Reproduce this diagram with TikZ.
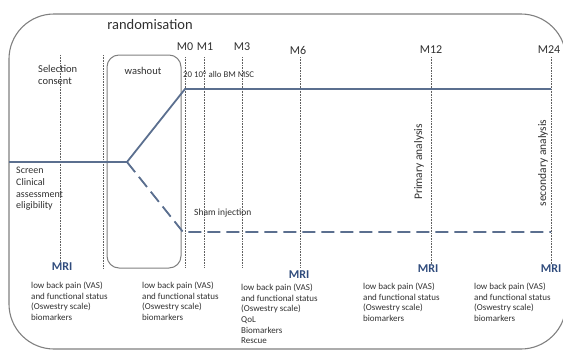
\documentclass[tikz,border=0pt]{standalone}
\usepackage{fontspec}
\setmainfont{Carlito}
\definecolor{armline}{HTML}{5B6F8F}
\definecolor{mriblue}{HTML}{2F4B7C}
\definecolor{txtgray}{HTML}{303030}
\definecolor{framegray}{HTML}{808080}
\definecolor{dotgray}{HTML}{606060}
\begin{document}
\begin{tikzpicture}[x=1pt,y=-1pt,
  every node/.style={inner sep=0pt, text=txtgray},
  frame/.style={draw=framegray, line width=1.1pt},
  tick/.style={draw=dotgray, line width=0.6pt, dash pattern=on 0.8pt off 0.8pt},
  arm/.style={draw=armline, line width=1.8pt},
  shamarm/.style={draw=armline, line width=1.8pt, dash pattern=on 13pt off 6pt},
  mlabel/.style={font=\fontsize{12}{13}\selectfont},
  small/.style={font=\fontsize{9}{10.6}\selectfont, align=left, anchor=north west},
  mid/.style={font=\fontsize{10.5}{12.5}\selectfont, align=left, anchor=north west},
  mri/.style={font=\fontsize{12}{13}\selectfont\bfseries, text=mriblue},
  rot/.style={font=\fontsize{11.5}{13}\selectfont, rotate=90}
]
\useasboundingbox (0,0) rectangle (563,351);
% outer frame
\draw[frame, rounded corners=45pt] (9,14) rectangle (566,349);
\node[font=\fontsize{14.5}{16}\selectfont] (rand) at (150,25) {randomisation};
% washout box
\draw[frame, line width=1pt, draw=gray, rounded corners=12pt] (107,55) rectangle (181,268);
\node[mid, anchor=center] (wash) at (143,71) {washout};
% vertical dotted lines
\coordinate (t0) at (60,55);  \coordinate (b0) at (60,262);
\coordinate (t1) at (103,55); \coordinate (b1) at (103,268);
\coordinate (tM0) at (185,57); \coordinate (bM0) at (185,268);
\coordinate (tM1) at (204,57); \coordinate (bM1) at (204,268);
\coordinate (tM3) at (242,57); \coordinate (bM3) at (242,268);
\coordinate (tM6) at (300,57); \coordinate (bM6) at (300,267);
\coordinate (tM12) at (431,57); \coordinate (bM12) at (431,264);
\coordinate (tM24) at (551,57); \coordinate (bM24) at (551,264);
\foreach \a/\b in {t0/b0,t1/b1,tM0/bM0,tM1/bM1,tM3/bM3,tM6/bM6,tM12/bM12,tM24/bM24}
  \draw[tick] (\a) -- (\b);
% month labels
\node[mlabel] (M0) at (185,47) {M0};
\node[mlabel] (M1) at (205,47) {M1};
\node[mlabel] (M3) at (242,47) {M3};
\node[mlabel] (M6) at (298,50) {M6};
\node[mlabel] (M12) at (431,50) {M12};
\node[mlabel] (M24) at (549,50) {M24};
% arms
\coordinate (start) at (9,162);
\coordinate (split) at (127,162);
\coordinate (actA) at (185,89);
\coordinate (actB) at (551,89);
\coordinate (shamA) at (183,232);
\coordinate (shamB) at (551,232);
\draw[arm] (start) -- (split) -- (actA) -- (actB);
\draw[shamarm] (split) -- (shamA) -- (shamB);
% texts
\node[small, font=\fontsize{8.8}{10}\selectfont, anchor=west] (dose) at (183,74) {20 10\textsuperscript{6} allo BM MSC};
\node[mid] (sel) at (38,65) {Selection\\consent};
\node[mid, font=\fontsize{10}{11.7}\selectfont] (scr) at (16,167) {Screen\\Clinical\\assessment\\eligibility};
\node[small, font=\fontsize{9.5}{11}\selectfont, anchor=west] (sham) at (194,213) {Sham injection};
\node[rot] (prim) at (419,162) {Primary analysis};
\node[rot] (sec) at (543,163) {secondary analysis};
% MRI
\node[mri] (mri0) at (62,267) {MRI};
\node[mri] (mri6) at (299,275) {MRI};
\node[mri] (mri12) at (428,269) {MRI};
\node[mri] (mri24) at (551,269) {MRI};
% outcome blocks
\node[small] (o0) at (31,282) {low back pain (VAS)\\and functional status\\(Oswestry scale)\\biomarkers};
\node[small] (o1) at (142,282) {low back pain (VAS)\\and functional status\\(Oswestry scale)\\biomarkers};
\node[small] (o2) at (241,284) {low back pain (VAS)\\and functional status\\(Oswestry scale)\\QoL\\Biomarkers\\Rescue};
\node[small] (o3) at (363,283) {low back pain (VAS)\\and functional status\\(Oswestry scale)\\biomarkers};
\node[small] (o4) at (474,283) {low back pain (VAS)\\and functional status\\(Oswestry scale)\\biomarkers};
\end{tikzpicture}
\end{document}
